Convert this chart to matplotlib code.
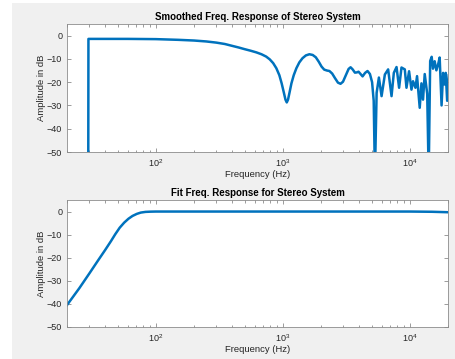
import matplotlib
matplotlib.use("Agg")
import matplotlib.pyplot as plt
from matplotlib.patches import Rectangle
from matplotlib.ticker import LogLocator, NullFormatter, FixedLocator

plt.rcParams['font.family'] = ['Liberation Sans', 'DejaVu Sans']

# ---- data: smoothed response (Hz, dB) ----
smooth_freq = [29.4, 29.5, 40, 60, 100, 150, 200, 250, 300, 350, 400, 450, 500, 560, 620,
               680, 740, 790, 840, 890, 940, 980, 1020, 1050, 1075, 1100, 1130, 1170,
               1220, 1280, 1350, 1430, 1520, 1620, 1720, 1820, 1920, 2020, 2120, 2230,
               2330, 2450, 2580, 2720, 2850, 2980, 3150, 3300, 3420, 3550, 3700, 3830,
               3950, 4100, 4250, 4450, 4650, 4857, 5050, 5200, 5316,
               5483, 5714, 5998, 6367, 6757, 7185, 7490, 7866, 8241, 8607,
               9138, 9421, 9874, 10311, 10614, 11085, 11411, 11979, 12355, 12716,
               13113, 13718, 14093, 14480, 14876, 15230, 15706, 16197, 16700, 17196,
               17800, 18300, 18800, 19200, 19700, 20300]
smooth_db = [-60, -1.4, -1.4, -1.4, -1.5, -1.8, -2.1, -2.5, -3.0, -3.6, -4.4, -5.1, -5.8,
             -6.5, -7.2, -8.0, -9.0, -10.2, -11.8, -14.0, -17.0, -20.5, -24.5, -27.5,
             -28.7, -27.5, -24.5, -20.5, -17.0, -14.0, -11.5, -9.7, -8.5, -8.0, -8.3,
             -9.3, -11.2, -13.3, -14.6, -15.0, -15.2, -16.3, -18.3, -20.2, -20.7, -19.8,
             -16.8, -14.3, -13.6, -14.5, -15.9, -15.8, -15.5, -16.5, -17.5, -16.0,
             -15.2, -16.5, -20.0, -28.0, -60,
             -24.6, -18.0, -26.0, -16.7, -14.5, -26.0, -16.0, -13.5, -22.4, -13.7,
             -14.5, -22.4, -15.3, -23.2, -19.6, -22.4, -17.4, -31.0, -20.5, -27.5,
             -16.5, -25.0, -60, -10.9, -9.1, -14.2, -11.0, -14.9, -12.5, -9.4,
             -30.0, -16.0, -21.0, -16.0, -28.0, -17.0]

# ---- data: fitted response (Hz, dB) ----
fit_freq = [20, 25, 30, 35, 40, 44.4, 48, 52, 56.4, 61, 65.6, 71, 76.2,
            83, 91, 100, 120, 200, 1000, 5000, 10000, 15000, 20000]
fit_db = [-40.5, -33.2, -26.8, -21.3, -16.6, -12.8, -9.8, -7.0, -4.8, -3.1,
          -1.9, -1.0, -0.45, -0.15, -0.05, 0, 0, 0, 0, 0, 0, -0.1, -0.3]

titles = ["Smoothed Freq. Response of Stereo System", "Fit Freq. Response for Stereo System"]
xlabel = "Frequency (Hz)"
ylabel = "Amplitude in dB"
yticks = [0, -10, -20, -30, -40, -50]

W, H = 456, 359
fig = plt.figure(figsize=(W / 100, H / 100), dpi=100, facecolor='white')
fig.patches.append(Rectangle((12 / W, 0), 1 - 12 / W, 1 - 3 / H, transform=fig.transFigure,
                             facecolor='#f0f0f0', edgecolor='none', zorder=-10))

line_color = '#0072BD'
axcol = '#262626'
spcol = '#8c8c8c'

def px_axes(l, t, r, b):
    return fig.add_axes([l / W, 1 - b / H, (r - l) / W, (b - t) / H])

ax1 = px_axes(67, 24, 448, 152)
ax2 = px_axes(67, 200, 448, 327)

for ax, fx, fy, title in [(ax1, smooth_freq, smooth_db, titles[0]),
                          (ax2, fit_freq, fit_db, titles[1])]:
    ax.plot(fx, fy, color=line_color, lw=1.8, solid_joinstyle='round')
    ax.set_xscale('log')
    ax.set_xlim(20, 20000)
    ax.set_ylim(-50, 5)
    ax.yaxis.set_major_locator(FixedLocator(yticks))
    ax.xaxis.set_major_locator(LogLocator(base=10, numticks=10))
    ax.xaxis.set_minor_locator(LogLocator(base=10, subs=range(2, 10), numticks=20))
    ax.xaxis.set_minor_formatter(NullFormatter())
    ax.tick_params(which='both', direction='in', top=True, right=True,
                   colors=spcol, labelcolor=axcol, labelsize=6.5, width=0.6)
    ax.tick_params(which='major', length=3)
    ax.tick_params(which='minor', length=1.8)
    for s in ax.spines.values():
        s.set_color(spcol)
        s.set_linewidth(0.6)
    ax.set_title(title, fontsize=7, fontweight='bold', color='black', pad=3)
    ax.set_xlabel(xlabel, fontsize=6.8, color=axcol, labelpad=1)
    ax.set_ylabel(ylabel, fontsize=6.8, color=axcol, labelpad=1)
    ax.set_facecolor('white')

fig.savefig('out.png', dpi=100, facecolor=fig.get_facecolor())
